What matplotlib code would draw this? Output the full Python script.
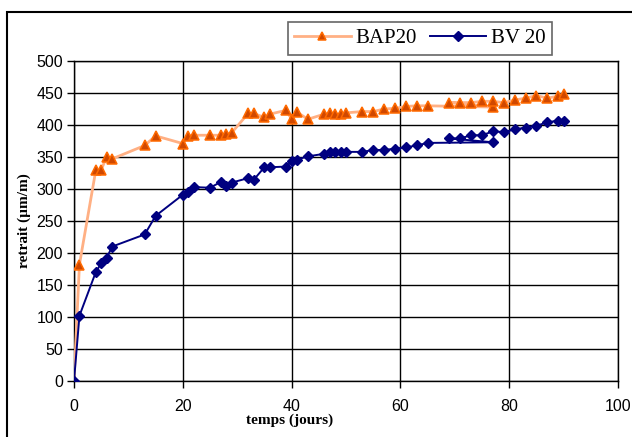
import matplotlib
matplotlib.use("Agg")
import matplotlib.pyplot as plt
from matplotlib.patches import Rectangle

# Data (days, shrinkage µm/m)
bap_t = [0, 1, 4, 5, 6, 7, 13, 15, 20, 21, 22, 25, 27, 28, 29, 32, 33, 35, 36, 39,
         40, 41, 43, 46, 47, 48, 49, 50, 53, 55, 57, 59, 61, 63, 65, 77, 69, 71, 73,
         75, 77, 79, 81, 83, 85, 87, 89, 90]
bap_v = [0, 182, 329, 330, 350, 347, 368, 383, 371, 383, 384, 384, 384, 386, 388, 418,
         418, 412, 417, 423, 409, 420, 409, 417, 419, 417, 417, 419, 421, 421, 425, 426,
         429, 430, 430, 428, 435, 435, 435, 437, 437, 435, 439, 442, 446, 442, 445, 449]

bv_t = [0, 1, 4, 5, 6, 7, 13, 15, 20, 21, 22, 25, 27, 28, 29, 32, 33, 35, 36, 39,
        40, 41, 43, 46, 47, 48, 49, 50, 53, 55, 57, 59, 61, 63, 65, 77, 69, 71, 73,
        75, 77, 79, 81, 83, 85, 87, 89, 90]
bv_v = [0, 102, 170, 184, 192, 210, 229, 258, 291, 296, 303, 302, 311, 304, 310, 317,
        314, 334, 334, 335, 343, 346, 351, 355, 358, 358, 358, 358, 358, 361, 361, 363,
        365, 368, 372, 373, 379, 379, 384, 384, 390, 389, 393, 396, 399, 404, 407, 407]

x_ticks = [0, 20, 40, 60, 80, 100]
y_ticks = [0, 50, 100, 150, 200, 250, 300, 350, 400, 450, 500]
series_labels = ["BAP20", "BV 20"]
x_label = "temps (jours)"
y_label = "retrait (µm/m)"

W, H = 632, 437
fig = plt.figure(figsize=(W / 100, H / 100), dpi=100)
fig.patch.set_facecolor("white")

# outer frame (cut at right/bottom like the reference)
fig.patches.append(Rectangle((7 / W, -0.05), 1.2, 1 - 11.5 / H + 0.05,
                             transform=fig.transFigure, fill=False,
                             edgecolor="black", linewidth=1.5))

ax = fig.add_axes([74 / W, 1 - 381 / H, (618 - 74) / W, (381 - 61) / H])
ax.plot(bap_t, bap_v, color="#FFB084", linewidth=2.0, marker="^", markersize=6.5,
        markerfacecolor="#D04800", markeredgecolor="#FF6A00", markeredgewidth=1.1,
        label=series_labels[0], zorder=3)
ax.plot(bv_t, bv_v, color="#000080", linewidth=1.4, marker="D", markersize=5.5,
        markerfacecolor="#000080", markeredgecolor="#000080",
        label=series_labels[1], zorder=4)

ax.set_xlim(0, 100)
ax.set_ylim(0, 500)
ax.set_xticks(x_ticks)
ax.set_yticks(y_ticks)
ax.grid(True, color="black", linewidth=1.0)
ax.set_axisbelow(True)
for s in ax.spines.values():
    s.set_color("black")
    s.set_linewidth(1.0)
ax.tick_params(direction="out", length=5, width=1, colors="black", pad=3)
for lab in ax.get_xticklabels() + ax.get_yticklabels():
    lab.set_fontfamily("Liberation Sans")
    lab.set_fontsize(11.5)
ax.tick_params(axis="x", pad=8)

fig.text(290 / W, 1 - 420 / H, x_label, ha="center", va="center",
         fontfamily="Liberation Serif", fontweight="bold", fontsize=11)
fig.text(24 / W, 1 - 221 / H, y_label, ha="center", va="center", rotation=90,
         fontfamily="Liberation Serif", fontweight="bold", fontsize=11)

leg = fig.legend(loc="center", bbox_to_anchor=((289 + 551) / 2 / W, 1 - 38.5 / H),
                 ncol=2, frameon=True, fancybox=False, shadow=False,
                 prop={"family": "Liberation Serif", "size": 15},
                 handlelength=2.7, handletextpad=0.25, columnspacing=0.6,
                 borderpad=0.3, borderaxespad=0.2)
leg.get_frame().set_edgecolor("#404040")
leg.get_frame().set_linewidth(1.2)
for h in leg.legend_handles:
    h.set_markersize(h.get_markersize() * 0.85)

fig.savefig("out.png", dpi=100)
